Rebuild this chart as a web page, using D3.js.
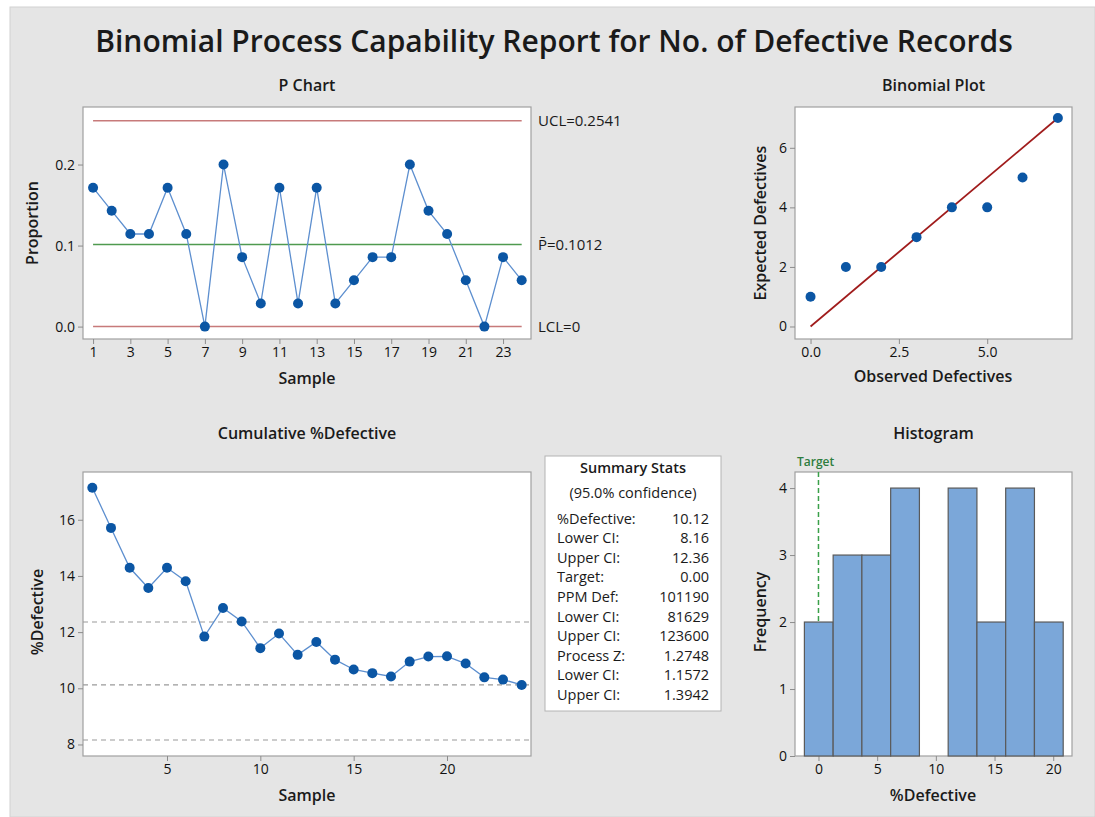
<!DOCTYPE html>
<html>
<head>
<meta charset="utf-8">
<title>binomial_capability</title>
<script src="https://cdn.jsdelivr.net/npm/d3@7/dist/d3.min.js"></script>
<style>
  body { margin: 0; background: #fff; }
  text { font-family: "Open Sans", "Noto Sans", sans-serif; fill: #1a1a1a; }
  .tick text { font-size: 14px; fill: #111; }
  .tick line { stroke: #8c8c8c; }
  .domain { display: none; }
</style>
</head>
<body>
<svg id="mainsvg" width="1095" height="817"></svg>
<script>
// ---- data ----
const samples = d3.range(1, 25);
const proportion = [0.1714, 0.1429, 0.1143, 0.1143, 0.1714, 0.1143, 0.0, 0.2, 0.0857, 0.0286, 0.1714, 0.0286,
                    0.1714, 0.0286, 0.0571, 0.0857, 0.0857, 0.2, 0.1429, 0.1143, 0.0571, 0.0, 0.0857, 0.0571];
const ucl = 0.2541, pbar = 0.1012, lcl = 0;

const observedDef = [0, 1, 2, 3, 4, 5, 6, 7];
const expectedDef = [1, 2, 2, 3, 4, 4, 5, 7];

const cumDefective = [17.14, 15.71, 14.29, 13.57, 14.29, 13.81, 11.84, 12.86, 12.38, 11.43, 11.95, 11.19,
                      11.65, 11.02, 10.67, 10.54, 10.42, 10.95, 11.13, 11.14, 10.88, 10.39, 10.31, 10.12];
const cumRefLines = [12.36, 10.12, 8.16];

const binStarts = [-1.2, 1.25, 3.7, 6.15, 8.6, 11.05, 13.5, 15.95, 18.4];
const binWidth = 2.45;
const binCounts = [2, 3, 3, 4, 0, 4, 2, 4, 2];
const target = 0;

const statLabels = ['%Defective:', 'Lower CI:', 'Upper CI:', 'Target:', 'PPM Def:', 'Lower CI:', 'Upper CI:', 'Process Z:', 'Lower CI:', 'Upper CI:'];
const statValues = ['10.12', '8.16', '12.36', '0.00', '101190', '81629', '123600', '1.2748', '1.1572', '1.3942'];

const blue = '#0b56a4', lineBlue = '#5d8fcf';

const svg = d3.select('#mainsvg');

// background
svg.append('rect').attr('x', 10).attr('y', 7).attr('width', 1085).attr('height', 810)
  .attr('fill', '#e5e5e5').attr('stroke', '#d2d2d2');

// title - size it so it spans the same width as the reference
const title = svg.append('text').attr('x', 554).attr('y', 52).attr('text-anchor', 'middle')
  .attr('font-size', 30).attr('font-weight', 600)
  .text('Binomial Process Capability Report for No. of Defective Records');
const tw = title.node().getComputedTextLength();
title.attr('font-size', Math.min(34, 30 * 918 / tw));

// helper: panel box + titles
function panel(x0, y0, x1, y1, t, titleY) {
  svg.append('rect').attr('x', x0).attr('y', y0).attr('width', x1 - x0).attr('height', y1 - y0)
    .attr('fill', '#fff').attr('stroke', '#a0a0a0').attr('stroke-width', 1.2);
  svg.append('text').attr('x', (x0 + x1) / 2).attr('y', titleY).attr('text-anchor', 'middle')
    .attr('font-size', 16).attr('font-weight', 600).text(t);
}
function xLabel(x, y, t) {
  svg.append('text').attr('x', x).attr('y', y).attr('text-anchor', 'middle')
    .attr('font-size', 16).attr('font-weight', 600).text(t);
}
function yLabel(x, y, t) {
  svg.append('text').attr('transform', `translate(${x},${y}) rotate(-90)`).attr('text-anchor', 'middle')
    .attr('font-size', 16).attr('font-weight', 600).text(t);
}

// ================= P Chart =================
const pBox = {x0: 83, y0: 107, x1: 531, y1: 339};
const xP = d3.scaleLinear().domain([0.46, 24.5]).range([pBox.x0, pBox.x1]);
const yP = d3.scaleLinear().domain([-0.0153, 0.271]).range([pBox.y1, pBox.y0]);
panel(pBox.x0, pBox.y0, pBox.x1, pBox.y1, 'P Chart', 91);
svg.append('g').attr('transform', `translate(0,${pBox.y1})`)
  .call(d3.axisBottom(xP).tickValues(d3.range(1, 24, 2)).tickSize(5).tickPadding(3));
svg.append('g').attr('transform', `translate(${pBox.x0},0)`)
  .call(d3.axisLeft(yP).tickValues([0, 0.1, 0.2]).tickFormat(d3.format('.1f')).tickSize(5).tickPadding(3));
[[ucl, '#c77a7a'], [pbar, '#4f9a4f'], [lcl, '#c77a7a']].forEach(([v, c]) => {
  svg.append('line').attr('x1', xP(1)).attr('x2', xP(24)).attr('y1', yP(v)).attr('y2', yP(v))
    .attr('stroke', c).attr('stroke-width', 1.5);
});
const limText = [[ucl, 'UCL=0.2541'], [pbar, 'P\u0304=0.1012'], [lcl, 'LCL=0']];
limText.forEach(([v, t]) => {
  svg.append('text').attr('x', 538).attr('y', yP(v) + 5).attr('font-size', 15).attr('fill', '#333').text(t);
});
svg.append('path').datum(samples)
  .attr('d', d3.line().x(d => xP(d)).y((d, i) => yP(proportion[i])))
  .attr('fill', 'none').attr('stroke', lineBlue).attr('stroke-width', 1.3);
svg.append('g').selectAll('circle').data(samples).join('circle')
  .attr('cx', d => xP(d)).attr('cy', (d, i) => yP(proportion[i])).attr('r', 5).attr('fill', blue);
xLabel(307, 384, 'Sample');
yLabel(38, 223, 'Proportion');

// ================= Binomial Plot =================
const bBox = {x0: 795, y0: 107, x1: 1072, y1: 339};
const xB = d3.scaleLinear().domain([-0.44, 7.4]).range([bBox.x0, bBox.x1]);
const yB = d3.scaleLinear().domain([-0.42, 7.37]).range([bBox.y1, bBox.y0]);
panel(bBox.x0, bBox.y0, bBox.x1, bBox.y1, 'Binomial Plot', 91);
svg.append('g').attr('transform', `translate(0,${bBox.y1})`)
  .call(d3.axisBottom(xB).tickValues([0, 2.5, 5]).tickFormat(d3.format('.1f')).tickSize(5).tickPadding(3));
svg.append('g').attr('transform', `translate(${bBox.x0},0)`)
  .call(d3.axisLeft(yB).tickValues([0, 2, 4, 6]).tickFormat(d3.format('d')).tickSize(5).tickPadding(3));
svg.append('line').attr('x1', xB(0)).attr('y1', yB(0)).attr('x2', xB(7)).attr('y2', yB(7))
  .attr('stroke', '#a01c1c').attr('stroke-width', 1.8);
svg.append('g').selectAll('circle').data(observedDef).join('circle')
  .attr('cx', d => xB(d)).attr('cy', (d, i) => yB(expectedDef[i])).attr('r', 5).attr('fill', blue);
xLabel(933, 382, 'Observed Defectives');
yLabel(766, 223, 'Expected Defectives');

// ================= Cumulative %Defective =================
const cBox = {x0: 83, y0: 472, x1: 531, y1: 756};
const xC = d3.scaleLinear().domain([0.5, 24.5]).range([cBox.x0, cBox.x1]);
const yC = d3.scaleLinear().domain([7.59, 17.70]).range([cBox.y1, cBox.y0]);
panel(cBox.x0, cBox.y0, cBox.x1, cBox.y1, 'Cumulative %Defective', 439);
svg.append('g').attr('transform', `translate(0,${cBox.y1})`)
  .call(d3.axisBottom(xC).tickValues([5, 10, 15, 20]).tickSize(5).tickPadding(3));
svg.append('g').attr('transform', `translate(${cBox.x0},0)`)
  .call(d3.axisLeft(yC).tickValues([8, 10, 12, 14, 16]).tickSize(5).tickPadding(3));
cumRefLines.forEach(v => {
  svg.append('line').attr('x1', cBox.x0).attr('x2', cBox.x1).attr('y1', yC(v)).attr('y2', yC(v))
    .attr('stroke', '#9a9a9a').attr('stroke-width', 1.2).attr('stroke-dasharray', '5,4');
});
svg.append('path').datum(samples)
  .attr('d', d3.line().x(d => xC(d)).y((d, i) => yC(cumDefective[i])))
  .attr('fill', 'none').attr('stroke', lineBlue).attr('stroke-width', 1.3);
svg.append('g').selectAll('circle').data(samples).join('circle')
  .attr('cx', d => xC(d)).attr('cy', (d, i) => yC(cumDefective[i])).attr('r', 5).attr('fill', blue);
xLabel(307, 801, 'Sample');
yLabel(43, 612, '%Defective');

// ================= Summary Stats =================
const sBox = {x: 545, y: 456, w: 176, h: 255};
svg.append('rect').attr('x', sBox.x).attr('y', sBox.y).attr('width', sBox.w).attr('height', sBox.h)
  .attr('fill', '#fff').attr('stroke', '#b4b4b4');
svg.append('text').attr('x', sBox.x + sBox.w / 2).attr('y', 473).attr('text-anchor', 'middle')
  .attr('font-size', 14.5).attr('font-weight', 600).text('Summary Stats');
svg.append('text').attr('x', sBox.x + sBox.w / 2).attr('y', 498).attr('text-anchor', 'middle')
  .attr('font-size', 14.5).text('(95.0% confidence)');
const sRows = svg.append('g').selectAll('g').data(statLabels).join('g')
  .attr('transform', (d, i) => `translate(0,${523.5 + i * 19.6})`);
sRows.append('text').attr('x', 557).attr('font-size', 14.5).text(d => d);
sRows.append('text').attr('x', 709).attr('text-anchor', 'end').attr('font-size', 14.5).text((d, i) => statValues[i]);

// ================= Histogram =================
const hBox = {x0: 795, y0: 472, x1: 1072, y1: 756};
const xH = d3.scaleLinear().domain([-2.0, 21.6]).range([hBox.x0, hBox.x1]);
const yH = d3.scaleLinear().domain([0, 4.24]).range([hBox.y1, hBox.y0]);
panel(hBox.x0, hBox.y0, hBox.x1, hBox.y1, 'Histogram', 439);
svg.append('g').attr('transform', `translate(0,${hBox.y1})`)
  .call(d3.axisBottom(xH).tickValues([0, 5, 10, 15, 20]).tickSize(5).tickPadding(3));
svg.append('g').attr('transform', `translate(${hBox.x0},0)`)
  .call(d3.axisLeft(yH).tickValues([0, 1, 2, 3, 4]).tickFormat(d3.format('d')).tickSize(5).tickPadding(3));
svg.append('line').attr('x1', xH(target)).attr('x2', xH(target)).attr('y1', hBox.y0).attr('y2', yH(2))
  .attr('stroke', '#3aa04a').attr('stroke-width', 1.5).attr('stroke-dasharray', '5,3');
svg.append('g').selectAll('rect').data(binStarts).join('rect')
  .attr('x', d => xH(d)).attr('width', xH(binWidth) - xH(0))
  .attr('y', (d, i) => yH(binCounts[i])).attr('height', (d, i) => yH(0) - yH(binCounts[i]))
  .attr('fill', '#7ba7d9').attr('stroke', '#5a5a5a').attr('stroke-width', 1.2)
  .style('display', (d, i) => binCounts[i] ? null : 'none');
svg.append('text').attr('x', 797).attr('y', 466).attr('font-size', 12).attr('font-weight', 600)
  .style('fill', '#2e7d3e').text('Target');
xLabel(933, 801, '%Defective');
yLabel(766, 612, 'Frequency');
</script>
</body>
</html>
